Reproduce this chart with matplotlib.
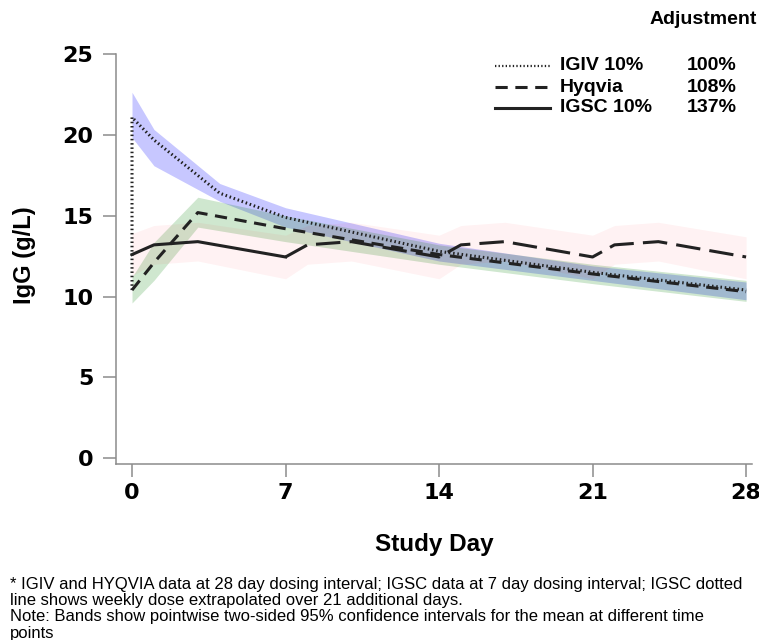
import matplotlib
matplotlib.use("Agg")
import matplotlib.pyplot as plt
from matplotlib.lines import Line2D

# IgG trough/peak profiles by study day
igiv_days = [0, 0, 1, 4, 7, 14, 21, 28]
igiv_igg = [10.4, 21.1, 19.7, 16.4, 14.9, 12.8, 11.5, 10.4]
igiv_band_days = [0, 1, 4, 7, 14, 21, 28]
igiv_lo = [19.85, 18.1, 15.9, 14.3, 12.2, 11.0, 9.8]
igiv_hi = [22.65, 20.35, 17.0, 15.5, 13.3, 11.9, 10.9]

hyq_days = [0, 1, 3, 7, 14, 21, 28]
hyq_igg = [10.4, 12.1, 15.2, 14.2, 12.6, 11.4, 10.3]
hyq_lo = [9.6, 11.0, 14.3, 13.4, 12.0, 10.8, 9.7]
hyq_hi = [11.2, 13.35, 16.15, 15.0, 13.2, 12.0, 11.0]

igsc_days = [0, 1, 3, 7]
igsc_igg = [12.6, 13.2, 13.4, 12.45]
igsc_ext_days = [7, 8, 10, 14, 15, 17, 21, 22, 24, 28]
igsc_ext_igg = [12.45, 13.2, 13.4, 12.45, 13.2, 13.4, 12.45, 13.2, 13.4, 12.45]
igsc_band_days = [0, 1, 3, 7, 8, 10, 14, 15, 17, 21, 22, 24, 28]
igsc_lo = [11.3, 12.0, 12.2, 11.1, 12.0, 12.2, 11.1, 12.0, 12.2, 11.1, 12.0, 12.2, 11.1]
igsc_hi = [13.9, 14.4, 14.6, 13.8, 14.4, 14.6, 13.8, 14.4, 14.6, 13.8, 14.4, 14.6, 13.7]

legend_names = ["IGIV 10%", "Hyqvia", "IGSC 10%"]
legend_adj = ["100%", "108%", "137%"]
xticks = [0, 7, 14, 21, 28]
yticks = [0, 5, 10, 15, 20, 25]
note_lines = [
    "* IGIV and HYQVIA data at 28 day dosing interval; IGSC data at 7 day dosing interval; IGSC dotted",
    "line shows weekly dose extrapolated over 21 additional days.",
    "Note: Bands show pointwise two-sided 95% confidence intervals for the mean at different time",
    "points",
]

W, H = 759, 640
fig = plt.figure(figsize=(W / 100, H / 100), dpi=100)
ax = fig.add_axes([116 / W, 1 - 464 / H, 636 / W, 410 / H])

line_col = "#222222"
dot_ls = (0, (0.5, 0.9))
dash_ls = (0, (4, 2.5))

# bands
ax.fill_between(igiv_band_days, igiv_lo, igiv_hi, color=(0, 0, 1), alpha=0.22, lw=0)
ax.fill_between(hyq_days, hyq_lo, hyq_hi, color=(0, 0.5, 0), alpha=0.19, lw=0)
ax.fill_between(igsc_band_days, igsc_lo, igsc_hi, color=(1, 0, 0.1), alpha=0.05, lw=0)

# lines
ax.plot(igsc_days, igsc_igg, color=line_col, lw=2.2)
ax.plot(igsc_ext_days, igsc_ext_igg, color=line_col, lw=2.2, ls=(0, (8, 3)))
ax.plot(hyq_days, hyq_igg, color=line_col, lw=2.2, ls=dash_ls)
ax.plot(igiv_days, igiv_igg, color=line_col, lw=2.2, ls=dot_ls)

ax.set_xlim(-0.73, 28.27)
ax.set_ylim(-0.37, 25.02)
ax.set_xticks(xticks)
ax.set_yticks(yticks)
for s in ["top", "right"]:
    ax.spines[s].set_visible(False)
for s in ["left", "bottom"]:
    ax.spines[s].set_color("#8c8c8c")
    ax.spines[s].set_linewidth(1.1)
ax.tick_params(axis="y", length=9.4, width=1.1, color="#8c8c8c", pad=7)
ax.tick_params(axis="x", length=9, width=1.1, color="#8c8c8c", pad=5)
for lab in ax.get_xticklabels() + ax.get_yticklabels():
    lab.set_fontfamily("DejaVu Sans")
    lab.set_fontweight("bold")
    lab.set_fontsize(16)

fig.text(24 / W, 1 - 255 / H, "IgG (g/L)", rotation=90, ha="center", va="center",
         family="Liberation Sans", weight="bold", fontsize=17)
fig.text(434 / W, 1 - 545 / H, "Study Day", ha="center", va="center",
         family="Liberation Sans", weight="bold", fontsize=17.5)

# legend
fig.text(757 / W, 1 - 20 / H, "Adjustment", ha="right", va="center",
         family="Liberation Sans", weight="bold", fontsize=14)
styles = [dict(lw=1.6, ls=(0, (0.6, 1.0))), dict(lw=2.2, ls=dash_ls), dict(lw=2.2, ls="-")]
rows = [66, 87, 108]
for name, adj, st, yy in zip(legend_names, legend_adj, styles, rows):
    fig.add_artist(Line2D([495 / W, 550 / W], [1 - yy / H] * 2, transform=fig.transFigure,
                          color=line_col, **st))
    fig.text(560 / W, 1 - yy / H, name, ha="left", va="center",
             family="Liberation Sans", weight="bold", fontsize=14)
    fig.text(712 / W, 1 - yy / H, adj, ha="center", va="center",
             family="Liberation Sans", weight="bold", fontsize=14)

# footnote, one text per line
for i, txt in enumerate(note_lines):
    fig.text(10 / W, 1 - (589 + 16.2 * i) / H, txt, ha="left", va="baseline",
             family="Liberation Sans", fontsize=12)

fig.savefig("out.png", dpi=100)
